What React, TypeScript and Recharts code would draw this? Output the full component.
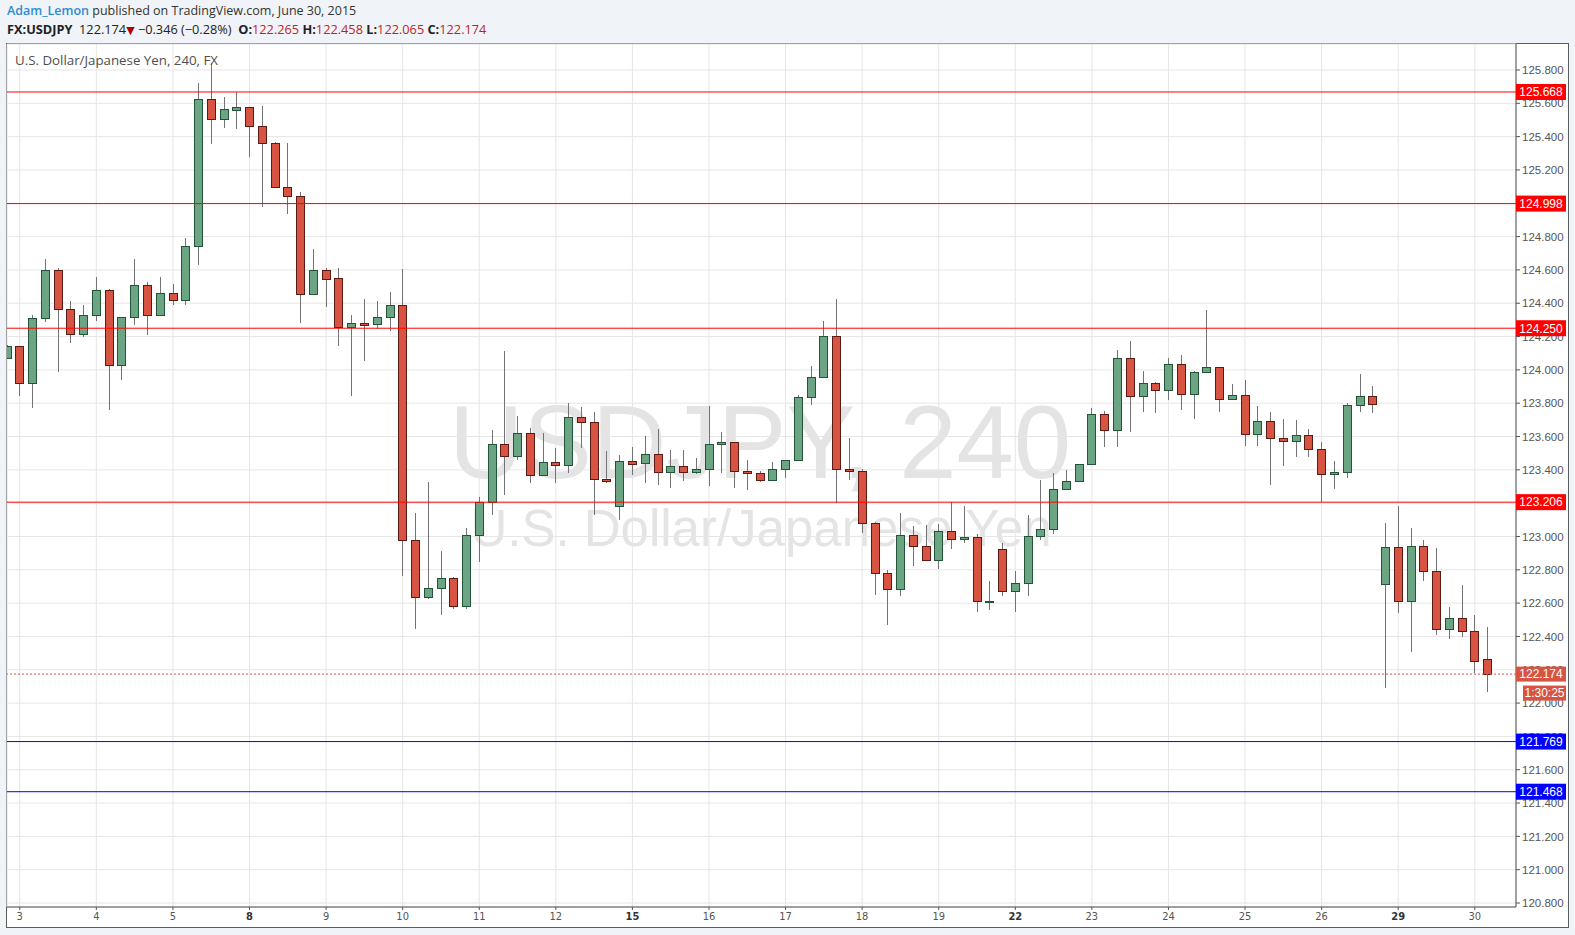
import React from 'react';
import { ComposedChart, Bar, XAxis, YAxis, CartesianGrid, ReferenceLine } from 'recharts';

// ---------- data (index -1 .. 115, 4h candles) ----------
const opens = [
  124.072, 124.142, 123.92, 124.31, 124.598, 124.364, 124.214, 124.328, 124.478, 124.028,
  124.316, 124.508, 124.328, 124.46, 124.418, 124.742, 125.624, 125.504, 125.558, 125.576,
  125.462, 125.36, 125.1, 125.042, 124.458, 124.598, 124.55, 124.26, 124.28, 124.274,
  124.316, 124.388, 122.978, 122.636, 122.69, 122.75, 122.582, 123.008, 123.206, 123.554,
  123.482, 123.62, 123.368, 123.446, 123.428, 123.716, 123.686, 123.344, 123.182, 123.452,
  123.44, 123.494, 123.386, 123.422, 123.386, 123.404, 123.554, 123.566, 123.392, 123.38,
  123.338, 123.404, 123.458, 123.836, 123.956, 124.202, 123.404, 123.392, 123.078, 122.78,
  122.684, 123.008, 122.942, 122.858, 123.032, 122.984, 122.996, 122.612, 122.924, 122.672,
  122.72, 123.002, 123.044, 123.284, 123.332, 123.434, 123.734, 123.638, 124.07, 123.842,
  123.92, 123.878, 124.034, 123.854, 123.986, 124.016, 123.824, 123.848, 123.614, 123.692,
  123.59, 123.572, 123.608, 123.524, 123.374, 123.386, 123.788, 123.842, 122.714, 122.936,
  122.612, 122.942, 122.792, 122.444, 122.51, 122.432, 122.265,
];
const highs = [
  124.15, 124.142, 124.33, 124.666, 124.612, 124.414, 124.39, 124.558, 124.486, 124.316,
  124.666, 124.528, 124.558, 124.516, 124.792, 125.722, 125.84, 125.638, 125.67, 125.576,
  125.584, 125.366, 125.362, 125.068, 124.726, 124.61, 124.61, 124.33, 124.426, 124.414,
  124.468, 124.606, 123.142, 123.328, 122.914, 122.758, 123.05, 123.238, 123.64, 124.114,
  123.724, 123.65, 123.622, 123.532, 123.802, 123.778, 123.746, 123.514, 123.488, 123.538,
  123.604, 123.646, 123.52, 123.52, 123.472, 123.784, 123.628, 123.566, 123.46, 123.392,
  123.448, 123.458, 123.848, 124.024, 124.294, 124.426, 123.592, 123.404, 123.084, 122.798,
  123.142, 123.064, 123.07, 123.076, 123.204, 123.184, 123.014, 122.734, 122.96, 122.794,
  123.128, 123.34, 123.382, 123.4, 123.434, 123.772, 123.754, 124.12, 124.174, 123.994,
  123.926, 124.072, 124.09, 123.994, 124.358, 124.016, 123.914, 123.938, 123.782, 123.746,
  123.706, 123.7, 123.644, 123.566, 123.454, 123.8, 123.976, 123.902, 123.08, 123.18,
  123.052, 122.98, 122.93, 122.578, 122.71, 122.53, 122.458,
];
const lows = [
  124.07, 123.846, 123.774, 124.29, 123.99, 124.164, 124.2, 124.296, 123.762, 123.942,
  124.272, 124.212, 124.328, 124.392, 124.392, 124.632, 125.358, 125.454, 125.448, 125.28,
  124.98, 125.094, 124.938, 124.284, 124.458, 124.378, 124.146, 123.846, 124.056, 124.244,
  124.236, 122.76, 122.444, 122.624, 122.526, 122.562, 122.562, 122.844, 123.126, 123.246,
  123.462, 123.318, 123.368, 123.318, 123.384, 123.534, 123.126, 123.318, 123.096, 123.372,
  123.318, 123.306, 123.288, 123.33, 123.378, 123.3, 123.384, 123.288, 123.276, 123.326,
  123.33, 123.348, 123.458, 123.792, 123.956, 123.198, 123.336, 123.018, 122.646, 122.466,
  122.64, 122.82, 122.858, 122.802, 122.924, 122.958, 122.546, 122.558, 122.642, 122.546,
  122.642, 122.978, 123.014, 123.278, 123.332, 123.434, 123.54, 123.54, 123.63, 123.75,
  123.744, 123.822, 123.762, 123.708, 123.986, 123.75, 123.818, 123.546, 123.546, 123.306,
  123.426, 123.48, 123.48, 123.206, 123.282, 123.348, 123.746, 123.74, 122.09, 122.538,
  122.304, 122.73, 122.406, 122.382, 122.394, 122.178, 122.065,
];
const closes = [
  124.142, 123.92, 124.31, 124.598, 124.364, 124.214, 124.328, 124.478, 124.028, 124.316,
  124.508, 124.328, 124.46, 124.418, 124.742, 125.624, 125.504, 125.564, 125.576, 125.462,
  125.36, 125.1, 125.042, 124.458, 124.598, 124.548, 124.26, 124.28, 124.272, 124.316,
  124.388, 122.98, 122.636, 122.69, 122.75, 122.582, 123.008, 123.206, 123.554, 123.482,
  123.62, 123.368, 123.446, 123.428, 123.716, 123.686, 123.344, 123.332, 123.452, 123.438,
  123.494, 123.386, 123.422, 123.386, 123.404, 123.554, 123.566, 123.392, 123.38, 123.338,
  123.404, 123.458, 123.836, 123.956, 124.202, 123.404, 123.392, 123.078, 122.78, 122.684,
  123.008, 122.942, 122.858, 123.032, 122.984, 122.996, 122.612, 122.614, 122.672, 122.72,
  123.002, 123.044, 123.284, 123.332, 123.434, 123.734, 123.638, 124.07, 123.842, 123.92,
  123.878, 124.034, 123.854, 123.986, 124.016, 123.824, 123.848, 123.614, 123.692, 123.59,
  123.572, 123.608, 123.524, 123.374, 123.386, 123.788, 123.842, 123.794, 122.936, 122.612,
  122.942, 122.792, 122.444, 122.51, 122.432, 122.252, 122.174,
];

const dayTickIndex = [0, 6, 12, 18, 24, 30, 36, 42, 48, 54, 60, 66, 72, 78, 84, 90, 96, 102, 108, 114];
const dayLabels = ['3', '4', '5', '8', '9', '10', '11', '12', '15', '16', '17', '18', '19', '22', '23', '24', '25', '26', '29', '30'];
const mondayLabels = ['8', '15', '22', '29'];

const priceTicks = [
  120.8, 121.0, 121.2, 121.4, 121.6, 121.8, 122.0, 122.2, 122.4, 122.6, 122.8, 123.0, 123.2,
  123.4, 123.6, 123.8, 124.0, 124.2, 124.4, 124.6, 124.8, 125.0, 125.2, 125.4, 125.6, 125.8,
];

const resistanceLevels = [125.668, 124.998, 124.25, 123.206];
const supportLevels = [121.769, 121.468];
const lastPrice = 122.174;
const countdownText = '1:30:25';

const candles = opens.map((o, k) => ({
  i: k - 1,
  open: o,
  high: highs[k],
  low: lows[k],
  close: closes[k],
  range: [lows[k], highs[k]],
}));

// ---------- layout / style ----------
const W = 1575;
const H = 935;
const PLOT_BOTTOM = 907;
const AXIS_W = 51;
const X_DOMAIN: [number, number] = [-1, 117.23];
const Y_DOMAIN: [number, number] = [120.776, 125.956];
const MARGIN = { top: 44, left: 7, right: 8, bottom: 8 };

const GREEN_FILL = '#6ba583';
const GREEN_EDGE = '#225437';
const RED_FILL = '#d75442';
const RED_EDGE = '#5b1a13';
const WICK = '#737375';
const LAST_COLOR = '#d75442';

function Candle(props: any) {
  const { x, y, width, height, payload } = props;
  if (x == null || y == null || !payload) return null;
  const top = Math.min(y, y + height);
  const bot = Math.max(y, y + height);
  const span = payload.high - payload.low;
  const k = span > 0 ? (bot - top) / span : 0;
  const py = (p: number) => top + (payload.high - p) * k;
  const up = payload.close >= payload.open;
  const c = Math.round(x + width / 2);
  const bt = Math.round(py(Math.max(payload.open, payload.close))) + 0.5;
  let bb = Math.round(py(Math.min(payload.open, payload.close))) + 0.5;
  if (bb - bt < 1) bb = bt + 1;
  return (
    <g>
      <line x1={c + 0.5} x2={c + 0.5} y1={Math.round(top)} y2={Math.round(bot)} stroke={WICK} strokeWidth={1} />
      <rect
        x={c - 3.5}
        y={bt}
        width={8}
        height={bb - bt}
        fill={up ? GREEN_FILL : RED_FILL}
        stroke={up ? GREEN_EDGE : RED_EDGE}
        strokeWidth={1}
      />
    </g>
  );
}

function DayTick(props: any) {
  const { x, y, payload } = props;
  const idx = dayTickIndex.indexOf(payload.value);
  const label = idx >= 0 ? dayLabels[idx] : '';
  const bold = mondayLabels.includes(label);
  return (
    <text
      x={x}
      y={y}
      dy="0.71em"
      textAnchor="middle"
      fill={bold ? '#333' : '#555'}
      fontWeight={bold ? 700 : 400}
      fontSize={11}
      fontFamily="'Liberation Sans Narrow', 'DejaVu Sans Condensed', 'Liberation Sans', Arial, sans-serif"
    >
      {label}
    </text>
  );
}

function PriceTick(props: any) {
  const { x, y, payload, index } = props;
  const id = `ptclip-${index}`;
  return (
    <g>
      <clipPath id={id}>
        <rect x={x - 10} y={y - 20} width={70} height={Math.max(0, PLOT_BOTTOM - (y - 20))} />
      </clipPath>
      <text
        x={x}
        y={y}
        dy="0.36em"
        textAnchor="start"
        fill="#555"
        fontSize={11.5}
        fontFamily="'Liberation Sans', Arial, sans-serif"
        clipPath={`url(#${id})`}
      >
        {Number(payload.value).toFixed(3)}
      </text>
    </g>
  );
}

function PriceTag(props: any) {
  const { viewBox, text, bg, offsetY = 0, boxLeft = 0, boxH = 16 } = props;
  if (!viewBox) return null;
  const x0 = viewBox.x + viewBox.width + boxLeft;
  const x1 = viewBox.x + viewBox.width + AXIS_W - 1;
  const cy = viewBox.y + offsetY;
  return (
    <g>
      <rect x={x0} y={cy - boxH / 2} width={x1 - x0} height={boxH} fill={bg} />
      <text
        x={(x0 + x1) / 2}
        y={cy}
        dy="0.36em"
        textAnchor="middle"
        fill="#fff"
        fontSize={12}
        fontFamily="'Liberation Sans', Arial, sans-serif"
      >
        {text}
      </text>
    </g>
  );
}

export default function App() {
  const headerFont = "'Open Sans', 'Noto Sans', 'DejaVu Sans', sans-serif";
  const red = '#c0231d';
  return (
    <div style={{ position: 'absolute', left: 0, top: 0, width: W, height: H, background: '#f0f3f7', overflow: 'hidden' }}>
      {/* header */}
      <div style={{ position: 'absolute', left: 7, top: 2, fontFamily: headerFont, fontSize: 12.5, color: '#333', whiteSpace: 'nowrap', lineHeight: '18px' }}>
        <span style={{ color: '#2e8bd3', fontWeight: 600 }}>Adam_Lemon</span> published on TradingView.com, June 30, 2015
      </div>
      <div style={{ position: 'absolute', left: 7, top: 20, fontFamily: headerFont, fontSize: 12.75, color: '#222', whiteSpace: 'nowrap', lineHeight: '18px' }}>
        <span style={{ fontWeight: 700 }}>FX:USDJPY</span>
        <span>&nbsp; 122.174</span>
        <span style={{ color: '#b00000', fontSize: 11 }}>&#9660;</span>
        <span>&nbsp;&minus;0.346 (&minus;0.28%)&nbsp; </span>
        <span style={{ fontWeight: 700 }}>O:</span><span style={{ color: red }}>122.265</span>
        <span style={{ fontWeight: 700 }}>&nbsp;H:</span><span style={{ color: red }}>122.458</span>
        <span style={{ fontWeight: 700 }}>&nbsp;L:</span><span style={{ color: red }}>122.065</span>
        <span style={{ fontWeight: 700 }}>&nbsp;C:</span><span style={{ color: red }}>122.174</span>
      </div>

      {/* panel */}
      <div style={{ position: 'absolute', left: 6, top: 43, width: 1561, height: 883, background: '#fff', border: '1px solid #5d5d5d', boxSizing: 'content-box' }} />

      {/* watermark */}
      <svg width={W} height={H} style={{ position: 'absolute', left: 0, top: 0 }}>
        <text x={760} y={478} textAnchor="middle" fill="#e4e4e4" fontSize={103} fontFamily="'Liberation Sans', Arial, sans-serif">
          USDJPY, 240
        </text>
        <text x={761} y={546} textAnchor="middle" fill="#e4e4e4" fontSize={51} fontFamily="'Liberation Sans', Arial, sans-serif">
          U.S. Dollar/Japanese Yen
        </text>
      </svg>

      {/* main chart: grid, axes, candles */}
      <div style={{ position: 'absolute', left: 0, top: 0 }}>
        <ComposedChart width={W} height={H} data={candles} margin={MARGIN}>
          <CartesianGrid stroke="#e6e6e6" />
          <XAxis
            dataKey="i"
            type="number"
            domain={X_DOMAIN}
            allowDataOverflow
            ticks={dayTickIndex}
            interval={0}
            tick={<DayTick />}
            tickLine={{ stroke: '#555' }}
            tickSize={3}
            tickMargin={2}
            axisLine={{ stroke: '#4d4d4d' }}
            height={20}
          />
          <YAxis
            orientation="right"
            type="number"
            domain={Y_DOMAIN}
            allowDataOverflow
            ticks={priceTicks}
            interval={0}
            tick={<PriceTick />}
            tickLine={{ stroke: '#555' }}
            tickSize={4}
            tickMargin={2}
            axisLine={{ stroke: '#4d4d4d' }}
            width={AXIS_W}
          />
          <Bar dataKey="range" barSize={8} shape={<Candle />} isAnimationActive={false} />
        </ComposedChart>
      </div>

      {/* overlay chart with the same scales: level lines and their price tags on top of the axis */}
      <div style={{ position: 'absolute', left: 0, top: 0, pointerEvents: 'none' }}>
        <ComposedChart width={W} height={H} data={candles} margin={MARGIN}>
          <XAxis dataKey="i" type="number" domain={X_DOMAIN} allowDataOverflow ticks={dayTickIndex} tick={false} tickLine={false} axisLine={false} height={20} />
          <YAxis orientation="right" type="number" domain={Y_DOMAIN} allowDataOverflow ticks={priceTicks} tick={false} tickLine={false} axisLine={false} width={AXIS_W} />
          {resistanceLevels.map((lv) => (
            <ReferenceLine
              key={`r${lv}`}
              y={lv}
              stroke="#ff0000"
              strokeWidth={1}
              label={<PriceTag text={lv.toFixed(3)} bg="#ff0000" />}
            />
          ))}
          {supportLevels.map((lv) => (
            <ReferenceLine
              key={`s${lv}`}
              y={lv}
              stroke="#0000ff"
              strokeWidth={1}
              label={<PriceTag text={lv.toFixed(3)} bg="#0000ff" />}
            />
          ))}
          <ReferenceLine
            y={lastPrice}
            stroke={LAST_COLOR}
            strokeDasharray="2 2"
            strokeWidth={1}
            label={<PriceTag text={lastPrice.toFixed(3)} bg={LAST_COLOR} boxH={15} />}
          />
          <ReferenceLine
            y={lastPrice}
            stroke="none"
            label={<PriceTag text={countdownText} bg={LAST_COLOR} offsetY={19} boxLeft={7} boxH={15} />}
          />
        </ComposedChart>
      </div>

      {/* symbol description inside chart */}
      <div style={{ position: 'absolute', left: 15, top: 51, fontFamily: headerFont, fontSize: 13.3, color: '#4f4f4f', whiteSpace: 'nowrap' }}>
        U.S. Dollar/Japanese Yen, 240, FX
      </div>
    </div>
  );
}
